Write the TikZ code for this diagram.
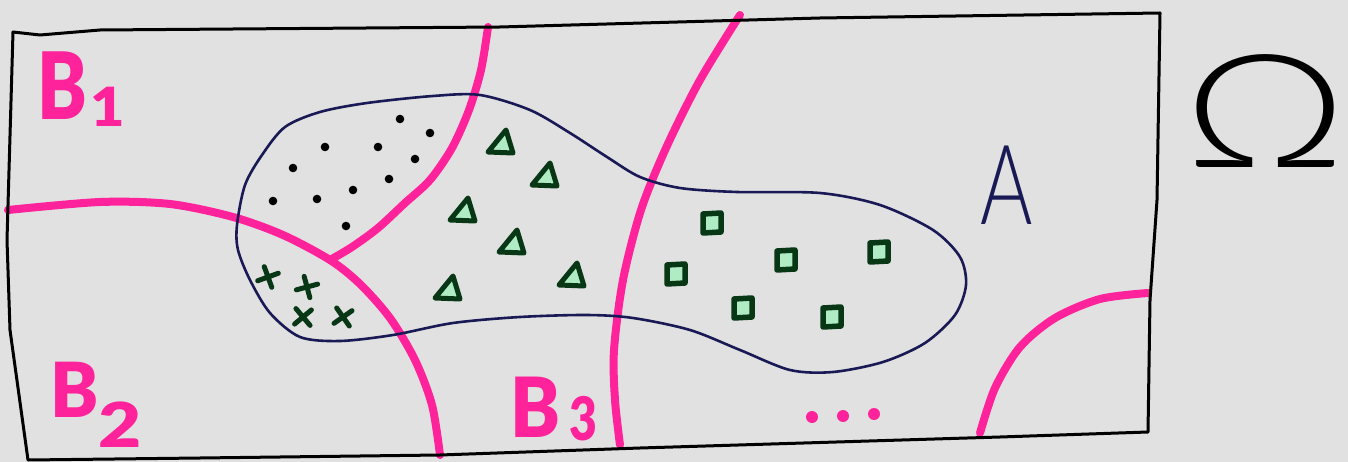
\documentclass[tikz,border=0pt]{standalone}
\usepackage{fontspec}
\IfFontExistsTF{Lato Black}
  {\newfontfamily\bfont{Lato Black}}
  {\newfontfamily\bfont{Lato}[FakeBold=3]}
\IfFontExistsTF{Lato Light}
  {\newfontfamily\tfontA{Lato Light}[FakeStretch=0.72]
   \newfontfamily\tfontO{Lato Light}[FakeStretch=1.3]}
  {\newfontfamily\tfontA{Lato}[FakeStretch=0.72]
   \newfontfamily\tfontO{Lato}[FakeStretch=1.3]}
\definecolor{bg}{RGB}{225,225,225}
\definecolor{pk}{RGB}{255,35,155}
\definecolor{navy}{RGB}{25,25,85}
\definecolor{dg}{RGB}{8,55,22}
\definecolor{lg}{RGB}{175,235,195}
\begin{document}
\begin{tikzpicture}[x=1pt,y=-1pt,
  pinkline/.style={draw=pk,line width=8pt,line cap=round,line join=round},
  setline/.style={draw=navy,line width=2.6pt},
  frameline/.style={draw=black,line width=3pt,line join=round},
  tri/.style={draw=dg,fill=lg,line width=5pt,line join=round},
  sq/.style={draw=dg,fill=lg,line width=5.5pt,line join=round},
  crs/.style={draw=dg,line width=5pt,line cap=round},
  pt/.style={fill=black},
  blab/.style={text=pk,inner sep=0pt,anchor=base west,font=\bfont},
  tlab/.style={inner sep=0pt,anchor=base west}]
\fill[bg] (0,0) rectangle (1348,462);
\useasboundingbox (0,0) rectangle (1348,462);
% pink partition boundaries
\draw[pinkline] plot[smooth] coordinates {(8,210) (100,202) (170,204) (233,217) (283,235) (330,260) (360,284) (390,318) (415,360) (432,405) (440,455)};
\draw[pinkline] plot[smooth] coordinates {(488,27) (481,70) (469,110) (452,148) (430,180) (405,203) (378,228) (352,247) (330,260)};
\draw[pinkline] plot[smooth] coordinates {(740,15) (700,80) (666,148) (641,210) (623,280) (614,350) (615,400) (620,445)};
\draw[pinkline] plot[smooth] coordinates {(1148,293) (1100,299) (1055,318) (1020,347) (995,388) (980,433)};
% set A
\draw[setline] plot[smooth cycle] coordinates {(237,225) (245,185) (262,155) (285,127) (320,112) (367,103) (433,96) (480,95) (530,110) (570,133) (607,157) (640,177) (680,188) (737,192) (820,193) (880,205) (933,230) (960,257) (966,285) (955,315) (925,343) (883,362) (833,372) (790,370) (740,350) (690,330) (633,318) (587,315) (520,317) (453,323) (393,335) (340,341) (300,337) (270,313) (250,280) (238,250)};
% frame Omega
\draw[frameline] (13,32) -- (40,35) -- (100,30) -- (500,27) -- (820,18) -- (1160,13) -- (1157,200) -- (1150,300) -- (1148,432) -- (1000,437) -- (640,448) -- (440,455) -- (200,458) -- (28,460) -- (10,330) -- (7,240) -- cycle;
% dots
\foreach \x/\y in {400/119,430/133,325/147,378/147,415/159,293/168,389/179,353/190,273/201,317/199,346/226}
  \fill[pt] (\x,\y) circle (4.3);
% crosses
\foreach \x/\y/\r in {268/277/20,307/287/15,303/317/40,343/317/35}
  \draw[crs,rotate around={\r:(\x,\y)}] (\x-11,\y) -- (\x+11,\y) (\x,\y-11) -- (\x,\y+11);
% triangles
\foreach \x/\y in {502/144,546/177,464/212,513/244,573/277,449/290}
  \draw[tri] (\x+4,\y-14) -- (\x-14,\y+8) -- (\x+11,\y+9) -- cycle;
% squares
\foreach \x/\y in {712/223,676/274,786/260,879/252,743/308,832/317}
  \draw[sq] (\x-9,\y-9) -- (\x+9,\y-10) -- (\x+9,\y+9) -- (\x-9,\y+10) -- cycle;
% ellipsis
\foreach \x/\y in {812/417,843/416,874/414}
  \fill[pk] (\x,\y) circle (6);
% labels
\node[blab] (b1) at (37,120) {\fontsize{93}{93}\selectfont\scalebox{0.8}[1]{B}\hspace{3pt}\raisebox{-7pt}{\fontsize{54}{54}\selectfont\scalebox{1.1}[1]{1}}};
\node[blab] (b2) at (50,417) {\fontsize{76}{76}\selectfont\scalebox{0.95}[1]{B}\raisebox{-30pt}{\fontsize{62}{62}\selectfont\scalebox{1.2}[1]{2}}};
\node[blab] (b3) at (510,437) {\fontsize{83}{83}\selectfont\scalebox{0.9}[1]{B}\hspace{9pt}\raisebox{-3pt}{\fontsize{60}{60}\selectfont\scalebox{0.8}[1]{3}}};
\node[tlab,text=navy] (a) at (980,225) {\tfontA\fontsize{111}{111}\selectfont A};
\node[tlab,text=black] (om) at (1183,168) {\tfontO\fontsize{158}{158}\selectfont Ω};
\end{tikzpicture}
\end{document}
